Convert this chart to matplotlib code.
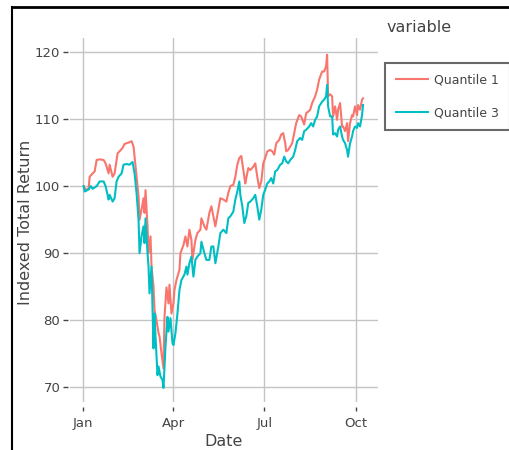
import matplotlib
matplotlib.use("Agg")
import matplotlib.pyplot as plt
from matplotlib.lines import Line2D
import pandas as pd

start = pd.Timestamp("2020-01-01")

# day offsets from Jan 1 2020 and index levels
q1_days = [1, 3, 6, 7, 10, 12, 14, 17, 21, 23, 26, 27, 30, 32, 35, 37, 40, 42, 46, 49,
           51, 53, 56, 57, 59, 61, 62, 63, 65, 66, 68, 69, 71, 72, 74, 76, 77, 79, 81, 82,
           84, 86, 87, 89, 91, 92, 94, 97, 98, 101, 103, 105, 107, 109, 110, 113, 115, 118, 119, 122,
           124, 127, 129, 131, 133, 136, 138, 141, 144, 146, 148, 151, 153, 155, 157, 159, 161, 163, 164, 166,
           168, 171, 173, 175, 177, 179, 181, 183, 185, 188, 190, 192, 194, 197, 199, 201, 203, 204, 206, 208,
           210, 212, 214, 217, 219, 222, 224, 226, 228, 230, 233, 235, 237, 240, 242, 244, 245, 246, 248, 250,
           251, 253, 255, 256, 258, 260, 261, 263, 265, 266, 268, 270, 271, 273, 275, 276, 278, 280, 281]
q1_vals = [100, 99.4, 99.7, 101.4, 101.9, 102.2, 103.9, 104.0, 103.9, 103.4,
           101.9, 103.2, 101.4, 101.9, 104.9, 105.2, 105.7, 106.3, 106.5, 106.7,
           105.9, 102.9, 98.5, 95.0, 96.5, 98.2, 96.0, 99.4, 94.0, 90.0,
           92.5, 88.0, 85.0, 81.5, 80.0, 78.1, 77.6, 75.1, 72.8, 80.5,
           84.9, 82.5, 85.3, 81.0, 82.5, 84.5, 86.0, 87.5, 90.0, 91.2,
           92.5, 91.0, 93.5, 92.0, 89.0, 92.0, 93.0, 93.5, 95.2, 94.0,
           93.5, 96.0, 97.0, 95.5, 94.0, 96.5, 98.2, 98.0, 97.7, 99.0,
           100.0, 100.2, 101.4, 103.2, 104.2, 104.5, 102.4, 100.4, 101.2, 102.7,
           102.4, 102.9, 103.4, 101.4, 99.7, 100.7, 103.4, 104.2, 105.2, 105.4,
           105.2, 104.7, 106.4, 106.9, 107.7, 107.9, 106.4, 105.2, 105.4, 105.9,
           106.4, 107.9, 109.4, 110.6, 110.4, 109.2, 110.9, 111.1, 111.4, 112.4,
           113.4, 114.4, 115.9, 117.1, 117.1, 117.9, 119.6, 113.4, 113.7, 113.4,
           110.4, 111.9, 109.9, 111.4, 112.4, 108.9, 108.9, 108.2, 109.4, 106.7,
           109.4, 110.6, 110.4, 111.9, 110.6, 112.1, 111.4, 112.9, 113.1]

q3_days = [1, 2, 6, 8, 10, 14, 17, 21, 23, 26, 27, 30, 32, 34, 36, 39, 41, 44, 47, 50,
           52, 54, 56, 57, 59, 61, 62, 63, 65, 66, 67, 69, 71, 72, 73, 75, 76, 78, 80, 81,
           83, 85, 86, 88, 90, 91, 93, 95, 97, 99, 102, 104, 105, 107, 109, 111, 113, 115, 118, 119,
           122, 124, 127, 129, 131, 133, 136, 138, 141, 144, 146, 148, 151, 153, 155, 157, 158, 160, 162, 164,
           166, 168, 171, 173, 175, 177, 179, 181, 183, 185, 187, 189, 191, 193, 195, 198, 200, 202, 204, 206,
           208, 211, 213, 215, 218, 220, 222, 224, 227, 229, 231, 233, 235, 237, 240, 242, 244, 245, 246, 248,
           250, 251, 253, 255, 256, 258, 260, 261, 263, 265, 266, 268, 270, 271, 273, 275, 276, 278, 280, 281]
q3_vals = [100, 99.2, 99.5, 100, 99.6, 100, 100.7, 100.7, 100, 98,
           98.7, 97.7, 98.2, 100.7, 101.4, 101.9, 103.2, 103.3, 103.2, 103.6,
           101.9, 99, 95, 90, 92.5, 94, 91.5, 95.2, 90, 88,
           84, 88, 75.8, 81, 77.6, 71.8, 73.1, 71.6, 71.1, 69.9,
           76.1, 80.5, 78.3, 80.3, 76.6, 76.3, 78.1, 81, 84.5, 86,
           86.8, 88, 86.8, 88.5, 89.5, 86.5, 89, 89.5, 90, 91.7,
           90, 89, 89, 91, 91, 88.5, 91, 93, 93.5, 93,
           95.2, 95.5, 96.2, 98, 99.2, 100.7, 98.7, 97, 94.5, 95.5,
           97.5, 97.7, 98.2, 98.7, 97, 95, 96.5, 98.7, 99.5, 100.4,
           100.7, 101.2, 100.4, 102.2, 102.4, 103.2, 103.4, 104.4, 103.7, 103.4,
           103.9, 104.4, 105.4, 106.7, 107.2, 106.9, 108.2, 108.4, 108.9, 109.4,
           108.9, 109.9, 110.4, 111.9, 112.6, 112.9, 113.4, 115.1, 111.9, 110.4,
           110.4, 107.7, 107.9, 107.4, 108.4, 108.9, 107.4, 106.9, 106.4, 105.4,
           104.4, 106.4, 107.4, 108.2, 108.9, 108.7, 109.4, 108.9, 110.6, 112.1]

series_names = ["Quantile 1", "Quantile 3"]
series_colors = ["#F8766D", "#00BFC4"]
tick_dates = ["2020-01-01", "2020-04-01", "2020-07-01", "2020-10-01"]
tick_labels = ["Jan", "Apr", "Jul", "Oct"]
y_ticks = [70, 80, 90, 100, 110, 120]

W, H = 510, 450
fig = plt.figure(figsize=(W / 100, H / 100), dpi=100)
ax = fig.add_axes([70 / W, 1 - 402 / H, (378 - 70) / W, (402 - 38) / H])

q1_x = start + pd.to_timedelta(q1_days, unit="D")
q3_x = start + pd.to_timedelta(q3_days, unit="D")
ax.plot(q1_x, q1_vals, color=series_colors[0], lw=1.5, label=series_names[0])
ax.plot(q3_x, q3_vals, color=series_colors[1], lw=1.5, label=series_names[1])

ax.set_xlim(start - pd.Timedelta(days=12.7), start + pd.Timedelta(days=296))
ax.set_ylim(67.8, 122.1)
ax.set_xticks(pd.to_datetime(tick_dates))
ax.set_xticklabels(tick_labels)
ax.set_yticks(y_ticks)

ax.set_axisbelow(True)
ax.grid(True, color="#c4c4c4", lw=1)
for s in ax.spines.values():
    s.set_visible(False)
ax.spines["bottom"].set_position(("outward", 3.6))
ax.spines["left"].set_position(("outward", 1.4))
ax.tick_params(axis="x", direction="out", length=2.9, width=1, color="#444444",
               labelcolor="#444444", labelsize=9.5, pad=4)
ax.tick_params(axis="y", direction="out", length=3.6, width=1, color="#444444",
               labelcolor="#444444", labelsize=9.5, pad=2)

fig.text(30 / W, 1 - 222 / H, "Indexed Total Return", rotation=90, rotation_mode="anchor",
         ha="center", va="baseline", fontsize=11.5, color="#444444")
fig.text(224 / W, 1 - 445.5 / H, "Date", ha="center", va="baseline", fontsize=11.5, color="#444444")
fig.text(387 / W, 1 - 32.5 / H, "variable", ha="left", va="baseline", fontsize=11.5, color="#444444")

leg = fig.legend(loc="upper left", bbox_to_anchor=(385 / W, 1 - 63 / H), bbox_transform=fig.transFigure,
                 frameon=True, fancybox=False, edgecolor="#444444", fontsize=9,
                 handlelength=2.6, handletextpad=0.5, borderpad=0.85, labelspacing=1.55,
                 borderaxespad=0)
leg.get_frame().set_linewidth(1.5)
for t in leg.get_texts():
    t.set_color("#444444")

# screenshot frame edges
fig.add_artist(Line2D([12 / W, 1], [1 - 7 / H, 1 - 7 / H], color="black", lw=2, transform=fig.transFigure))
fig.add_artist(Line2D([12 / W, 12 / W], [0, 1 - 7 / H], color="black", lw=1.5, transform=fig.transFigure))

fig.savefig("out.png", dpi=100)
